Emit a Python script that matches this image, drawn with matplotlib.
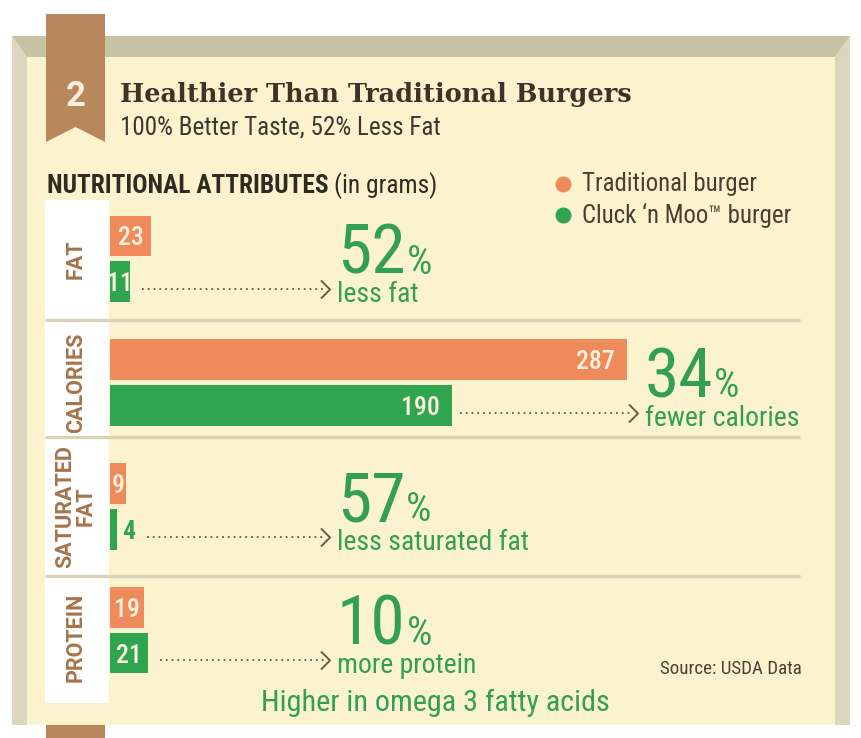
#!/usr/bin/env python3
"""Healthier Than Traditional Burgers - nutrition comparison infographic."""

import numpy as np
import matplotlib
matplotlib.use('Agg')  # no display
import matplotlib.pyplot as plt
from matplotlib import font_manager
from matplotlib.patches import Polygon, Rectangle
from matplotlib.path import Path

# Data (grams / kcal)
categories = ['FAT', 'CALORIES', 'SATURATED\nFAT', 'PROTEIN']
traditional = [23, 287, 9, 19]
cluck = [11, 190, 4, 21]
pct_change = [52, 34, 57, 10]
captions = ['less fat', 'fewer calories', 'less saturated fat', 'more protein']
series_names = ['Traditional burger', 'Cluck \u2018n Moo\u2122 burger']

# Colors
colors = {
    'orange': '#ef8a5b',
    'green': '#2fa550',
    'green_txt': '#33a04f',
    'cream': '#fbf3cd',
    'side': '#dcd6bf',
    'band': '#c7c2a3',
    'ribbon': '#b8875b',
    'sep': '#d9d2b6',
    'brown': '#a5744b',
    'dark': '#3b3427',
    'text': '#46402f',
    'bar_txt': '#fdf0dc',
    'arrow': '#6a5a47',
}

_names = {f.name for f in font_manager.fontManager.ttflist}


def pick(*cands):
    return next((c for c in cands if c in _names), 'DejaVu Sans')


COND = pick('Roboto Condensed', 'Liberation Sans Narrow', 'Roboto')
SANS = pick('Roboto', 'DejaVu Sans')
SLAB = pick('Roboto Slab', 'DejaVu Serif')

W, H = 862, 738
fig = plt.figure(figsize=(W / 100, H / 100), dpi=100, facecolor='white')

# Background axes in pixel coordinates for the frame
bg = fig.add_axes([0, 0, 1, 1])
bg.set_xlim(0, W)
bg.set_ylim(H, 0)
bg.axis('off')

bg.add_patch(Rectangle((27, 57), 808, 668, color=colors['cream'], lw=0))
bg.add_patch(Polygon([(12, 36), (27, 57), (27, 725), (12, 725)], color=colors['side'], lw=0))
bg.add_patch(Polygon([(850, 36), (835, 57), (835, 725), (850, 725)], color=colors['side'], lw=0))
bg.add_patch(Polygon([(12, 36), (850, 36), (835, 57), (27, 57)], color=colors['band'], lw=0))

# Ribbon with notch + its tail under the frame
bg.add_patch(Polygon([(46, 14), (105, 14), (105, 142), (75.5, 127), (46, 142)],
                     color=colors['ribbon'], lw=0))
bg.add_patch(Rectangle((46, 725), 59, 20, color=colors['ribbon'], lw=0))
bg.text(76, 96, '2', ha='center', va='center', fontsize=25, weight='bold',
        family=SANS, color='#f8eedc')

# White label column and separators
bg.add_patch(Rectangle((45, 200), 64, 503, color='white', lw=0))
for y in (320, 437, 576):
    bg.plot([45, 800], [y, y], lw=2.4, color=colors['sep'], solid_capstyle='butt')

renderer = fig.canvas.get_renderer()


def fit(t, target_px, max_size=None):
    """Scale font so the text is target_px wide."""
    w = t.get_window_extent(renderer).width
    s = t.get_fontsize() * target_px / w
    if max_size:
        s = min(s, max_size)
    t.set_fontsize(s)
    return s


# Titles
title = bg.text(120, 102, 'Healthier Than Traditional Burgers', fontsize=20,
                weight='bold', family=SLAB, color=colors['dark'], va='baseline')
fit(title, 512, 22)
sub = bg.text(120, 128, '100% Better Taste, 52% Less Fat', fontsize=14,
              family=COND, color='#3a3a32', va='center')
fit(sub, 323, 19)

head = bg.text(47, 186, 'NUTRITIONAL ATTRIBUTES', fontsize=14, weight='bold',
               family=COND, color='#2f2b22', va='center')
hs = fit(head, 283, 19)
hx = bg.transData.inverted().transform(
    (head.get_window_extent(renderer).x1, 0))[0]
bg.text(hx + 5, 186, '(in grams)', fontsize=hs, family=COND,
        color='#2f2b22', va='center')

# Legend
leg_texts = []
for y, name, c in zip((184, 215), series_names, (colors['orange'], colors['green'])):
    bg.plot(563, y, 'o', ms=10.5, color=c)
    leg_texts.append(bg.text(582, y, name, fontsize=15, family=COND,
                             color=colors['text'], va='center'))
ls = fit(leg_texts[0], 175, 19)
leg_texts[1].set_fontsize(ls)

# Bar axes: x in grams, y in category rows
PX_PER_G = 1.8
ax = fig.add_axes([110 / W, 1 - 692 / H, 720 / W, (692 - 197) / H])
ax.set_xlim(0, 720 / PX_PER_G)
ax.set_ylim(len(categories) - 0.5, -0.5)
ax.axis('off')

pos = np.arange(len(categories))
BAR_H, OFF = 0.331, 0.185
ax.barh(pos - OFF, traditional, height=BAR_H, color=colors['orange'], zorder=3)
ax.barh(pos + OFF, cluck, height=BAR_H, color=colors['green'], zorder=3)


def bar_label(val, y, out_color):
    """Value label inside the bar if it fits, else after it. Returns right edge."""
    w_px = val * PX_PER_G
    kw = dict(va='center_baseline', fontsize=18.5, family=COND, weight='medium', zorder=4)
    if w_px >= 60:
        ax.text(val - 12 / PX_PER_G, y, str(val), ha='right', color=colors['bar_txt'], **kw)
        return val + 8 / PX_PER_G
    if w_px >= 14:
        ax.text(val / 2, y, str(val), ha='center', color=colors['bar_txt'], **kw)
        return val + 12 / PX_PER_G
    ax.text(val + 5 / PX_PER_G, y, str(val), ha='left', color=out_color,
            weight='bold', va='center_baseline', fontsize=18.5, family=COND)
    return val + 30 / PX_PER_G


chev = Path([(-0.5, 1), (0.5, 0), (-0.5, -1)], [Path.MOVETO, Path.LINETO, Path.LINETO])
big_texts = []
cap_texts = []
for i, (cat, tv, cv, pct, cap) in enumerate(zip(categories, traditional, cluck,
                                                pct_change, captions)):
    ax.text(-19, i + (0.06 if i == 3 else 0), cat, rotation=90, ha='center',
            va='center', fontsize=15.5, weight='bold', family=SANS,
            color=colors['brown'], linespacing=0.9, clip_on=False)
    bar_label(tv, i - OFF, colors['orange'])
    start = bar_label(cv, i + OFF, colors['green'])

    x_txt = max(126, tv + 10)
    big = ax.text(x_txt, i + 0.12, str(pct), fontsize=50, family=COND,
                  color=colors['green_txt'], va='baseline', ha='left')
    big_texts.append(big)
    ct = ax.text(x_txt, i + 0.35, cap, fontsize=18, family=COND,
                 color=colors['green_txt'], va='baseline', ha='left')
    cap_texts.append(ct)

    # dotted arrow to the percentage
    end = x_txt - 12 / PX_PER_G
    ya = i + OFF + 0.06
    ax.plot([start, end], [ya, ya], ls=(0, (1, 2.2)), lw=1.3, color=colors['arrow'])
    ax.plot(end, ya, marker=chev, ms=13, mfc='none', mec=colors['arrow'], mew=1.4)

cs = fit(cap_texts[1], 155, 21)
for t in cap_texts:
    t.set_fontsize(cs)

# Percent sign right after each number
for t in big_texts:
    x1 = t.get_window_extent(renderer).x1
    xd = ax.transData.inverted().transform((x1 + 1, 0))[0]
    ax.text(xd, t.get_position()[1], '%', fontsize=29, family=COND,
            color=colors['green_txt'], va='baseline', ha='left')

# Footer
src = bg.text(660, 669, 'Source: USDA Data', fontsize=11, family=COND,
              color='#4d4332', va='center')
fit(src, 142, 14)
omega = bg.text(435, 703, 'Higher in omega 3 fatty acids', fontsize=18,
                family=COND, color=colors['green_txt'], ha='center', va='center')
fit(omega, 349, 22)

fig.savefig('out.png', dpi=100, facecolor='white')
